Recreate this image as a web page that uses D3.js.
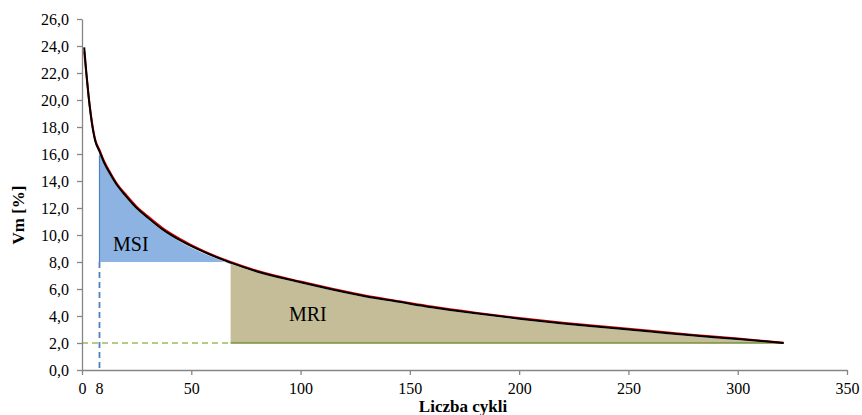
<!DOCTYPE html>
<html>
<head>
<meta charset="utf-8">
<script src="https://cdn.jsdelivr.net/npm/d3@7"></script>
<style>
	body { margin: 0; background: #fff; }
</style>
</head>
<body>
<div id="chart"></div>
<script>
// measured curve (black) and fitted curve (red)
let cycles = [1, 2, 3, 4, 5, 6, 8, 10, 13, 16, 20, 25, 30, 37, 45, 55, 68, 80, 100, 115, 130, 145, 160, 180, 200, 220, 240, 260, 280, 300, 321];
let vmMeasured = [23.9, 22.0, 20.3, 18.9, 17.8, 17.0, 16.2, 15.4, 14.5, 13.7, 12.9, 12.0, 11.3, 10.4, 9.6, 8.8, 7.95, 7.3, 6.5, 5.95, 5.45, 5.05, 4.65, 4.2, 3.8, 3.45, 3.15, 2.85, 2.55, 2.3, 2.0];
let vmModel = [23.6, 21.9, 20.3, 19.0, 17.9, 17.1, 16.3, 15.5, 14.6, 13.8, 13.0, 12.1, 11.4, 10.5, 9.7, 8.85, 8.0, 7.35, 6.55, 6.0, 5.5, 5.1, 4.7, 4.25, 3.85, 3.5, 3.2, 2.9, 2.6, 2.33, 2.02];

// MSI and MRI bounds
let msiRange = [8, 68];
let msiBase = 8;
let mriRange = [68, 321];
let mriBase = 2;

let xTicks = [0, 50, 100, 150, 200, 250, 300, 350];
let yTicks = [0, 2, 4, 6, 8, 10, 12, 14, 16, 18, 20, 22, 24, 26];

let serif = "Liberation Serif";

let svg = d3.select("#chart")
	.append("svg")
	.attr("width", 862)
	.attr("height", 415);

let x = d3.scaleLinear().domain([0, 350]).range([82, 847]);
let y = d3.scaleLinear().domain([0, 26]).range([370, 19]);

let measured = cycles.map(function (c, i) { return { x: c, y: vmMeasured[i] }; });
let model = cycles.map(function (c, i) { return { x: c, y: vmModel[i] }; });

// filled areas
let msiData = measured.filter(function (d) { return d.x >= msiRange[0] && d.x <= msiRange[1]; });
let mriData = measured.filter(function (d) { return d.x >= mriRange[0] && d.x <= mriRange[1]; });

svg.append("path")
	.datum(msiData)
	.attr("fill", "#8db3e2")
	.attr("d", d3.area()
		.x(function (d) { return x(d.x); })
		.y0(y(msiBase))
		.y1(function (d) { return y(d.y) + 1.5; })
		.curve(d3.curveMonotoneX));

svg.append("path")
	.datum(mriData)
	.attr("fill", "#c4bd97")
	.attr("d", d3.area()
		.x(function (d) { return x(d.x); })
		.y0(y(mriBase))
		.y1(function (d) { return y(d.y) + 1; })
		.curve(d3.curveMonotoneX));

// blue edge of MSI + dashed line down to axis
svg.append("line")
	.attr("x1", x(msiRange[0])).attr("x2", x(msiRange[0]))
	.attr("y1", y(msiData[0].y) + 4).attr("y2", y(msiBase))
	.attr("stroke", "#4f81bd").attr("stroke-width", 1.2);

svg.append("line")
	.attr("x1", x(msiRange[0])).attr("x2", x(msiRange[0]))
	.attr("y1", y(msiBase)).attr("y2", y(0))
	.attr("stroke", "#4f81bd").attr("stroke-width", 1.8)
	.attr("stroke-dasharray", "6,4");

// green dashed line at Vm = 2
svg.append("line")
	.attr("x1", x(0)).attr("x2", x(mriRange[0]))
	.attr("y1", y(mriBase)).attr("y2", y(mriBase))
	.attr("stroke", "#9bbb59").attr("stroke-width", 1.6)
	.attr("stroke-dasharray", "6,4");

svg.append("line")
	.attr("x1", x(mriRange[0])).attr("x2", x(mriRange[1]))
	.attr("y1", y(mriBase)).attr("y2", y(mriBase))
	.attr("stroke", "#76923c").attr("stroke-width", 1.6);

// curves
let line = d3.line()
	.x(function (d) { return x(d.x); })
	.y(function (d) { return y(d.y); })
	.curve(d3.curveMonotoneX);

svg.append("path")
	.datum(model)
	.attr("fill", "none")
	.attr("stroke", "#e00000")
	.attr("stroke-width", 2)
	.attr("d", line);

svg.append("path")
	.datum(measured)
	.attr("fill", "none")
	.attr("stroke", "#000")
	.attr("stroke-width", 2)
	.attr("d", line);

// area labels
svg.append("text")
	.attr("x", x(14.2)).attr("y", y(8.84))
	.style("font-family", serif)
	.style("font-size", "20px")
	.text("MSI");

svg.append("text")
	.attr("x", x(94.7)).attr("y", y(3.63))
	.style("font-family", serif)
	.style("font-size", "20px")
	.text("MRI");

// axes
let fmt = function (d) { return d3.format(".1f")(d).replace(".", ","); };

let yAxis = svg.append("g")
	.attr("transform", "translate(" + x(0) + ",0)")
	.call(d3.axisLeft(y).tickValues(yTicks).tickFormat(fmt).tickSize(5).tickSizeOuter(0).tickPadding(8));

let xAxis = svg.append("g")
	.attr("transform", "translate(0," + y(0) + ")")
	.call(d3.axisBottom(x).tickValues(xTicks).tickFormat(d3.format("d")).tickSize(5).tickSizeOuter(0).tickPadding(8));

// extra "8" label
xAxis.append("text")
	.attr("x", x(msiRange[0])).attr("y", 13)
	.attr("dy", "0.71em")
	.attr("text-anchor", "middle")
	.text("8");

[yAxis, xAxis].forEach(function (a) {
	a.select(".domain").attr("stroke", "#868686").attr("stroke-width", 1.3);
	a.selectAll(".tick line").attr("stroke", "#868686").attr("stroke-width", 1.3);
	a.selectAll("text")
		.attr("fill", "#000")
		.style("font-family", serif)
		.style("font-size", "16px");
});

// axis titles
svg.append("text")
	.attr("x", 463).attr("y", 412)
	.attr("text-anchor", "middle")
	.style("font-family", serif)
	.style("font-size", "17px")
	.style("font-weight", "bold")
	.text("Liczba cykli");

svg.append("text")
	.attr("transform", "translate(24,215) rotate(-90)")
	.attr("text-anchor", "middle")
	.style("font-family", serif)
	.style("font-size", "17px")
	.style("font-weight", "bold")
	.text("Vm [%]");
</script>
</body>
</html>
